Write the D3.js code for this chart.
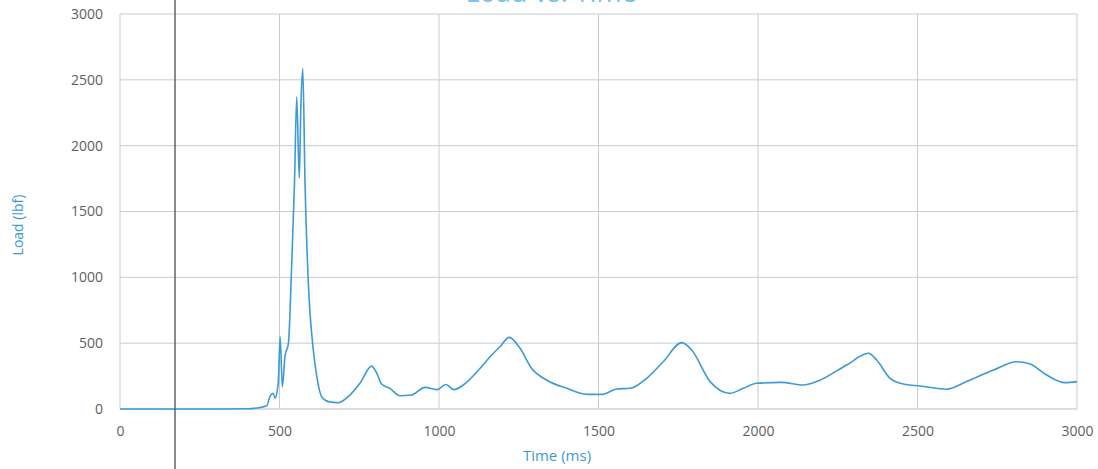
<!DOCTYPE html>
<html>
<head>
<meta charset="utf-8">
<script src="https://cdn.jsdelivr.net/npm/d3@7"></script>
<style>
  html, body { margin: 0; padding: 0; background: #ffffff; }
  svg { display: block; }
</style>
</head>
<body>
<svg id="chart" width="1098" height="469"></svg>
<script>
// Impact load trace, sampled times (ms) and load (lbf)
const timeMs = [0, 100, 200, 300, 400, 440, 460, 470, 480, 486, 496, 502, 509, 517, 528, 538, 547, 554, 562, 567, 573, 580, 590, 606, 617, 632, 653, 684, 721, 752, 789, 805, 820, 846, 878, 914, 956, 994, 1021, 1047, 1076, 1129, 1160, 1191, 1220, 1254, 1290, 1337, 1400, 1463, 1510, 1557, 1599, 1651, 1703, 1761, 1792, 1850, 1912, 1954, 1996, 2074, 2142, 2184, 2278, 2346, 2372, 2414, 2456, 2508, 2591, 2654, 2738, 2811, 2853, 2905, 2962, 3000];
const loadLbf = [0, 0, 0, 0, 2, 12, 25, 94, 120, 83, 197, 549, 169, 397, 501, 1080, 1715, 2370, 1753, 2295, 2586, 1715, 979, 448, 245, 94, 56, 48, 106, 195, 326, 271, 190, 157, 101, 106, 164, 147, 186, 147, 182, 309, 397, 473, 544, 461, 309, 220, 157, 111, 111, 152, 157, 233, 359, 504, 448, 208, 119, 157, 195, 202, 182, 208, 334, 423, 372, 233, 190, 175, 150, 208, 296, 359, 342, 258, 200, 208];

const xTicks = [0, 500, 1000, 1500, 2000, 2500, 3000];
const yTicks = [0, 500, 1000, 1500, 2000, 2500, 3000];

const chartTitle = "Load vs. Time";
const xTitle = "Time (ms)";
const yTitle = "Load (lbf)";

const svg = d3.select("#chart");
const plot = { left: 120, right: 1077, top: 14, bottom: 409 };

const x = d3.scaleLinear().domain([0, 3000]).range([plot.left, plot.right]);
const y = d3.scaleLinear().domain([0, 3000]).range([plot.bottom, plot.top]);

const gridColor = "#c5cdd5";
const tickColor = "#5f5f5f";
const blue = "#3c9ad8";

// Gridlines
svg.append("g")
  .selectAll("line")
  .data(yTicks)
  .join("line")
  .attr("x1", plot.left).attr("x2", plot.right)
  .attr("y1", d => y(d)).attr("y2", d => y(d))
  .attr("stroke", d => d === 0 ? "#b5bcc4" : gridColor)
  .attr("stroke-width", 1);

svg.append("g")
  .selectAll("line")
  .data(xTicks)
  .join("line")
  .attr("x1", d => x(d)).attr("x2", d => x(d))
  .attr("y1", plot.top).attr("y2", plot.bottom)
  .attr("stroke", gridColor)
  .attr("stroke-width", 1);

// Axes (labels only, lines drawn by grid)
const xAxis = d3.axisBottom(x).tickValues(xTicks).tickSize(0).tickPadding(17).tickFormat(d3.format("d"));
const gx = svg.append("g").attr("transform", `translate(0,${plot.bottom})`).call(xAxis);
gx.select(".domain").remove();
gx.selectAll("text").attr("fill", tickColor).style("font-family", "'Open Sans', sans-serif").style("font-size", "14px");

const yAxis = d3.axisLeft(y).tickValues(yTicks).tickSize(0).tickPadding(17).tickFormat(d3.format("d"));
const gy = svg.append("g").attr("transform", `translate(${plot.left},0)`).call(yAxis);
gy.select(".domain").remove();
gy.selectAll("text").attr("fill", tickColor).style("font-family", "'Open Sans', sans-serif").style("font-size", "14px");

// Load trace
const line = d3.line()
  .x((d, i) => x(timeMs[i]))
  .y(d => y(d))
  .curve(d3.curveMonotoneX);

svg.append("path")
  .datum(loadLbf)
  .attr("d", line)
  .attr("fill", "none")
  .attr("stroke", blue)
  .attr("stroke-width", 1.6)
  .attr("stroke-linejoin", "round");

// Marker line across the page
svg.append("line")
  .attr("x1", 175).attr("x2", 175)
  .attr("y1", 0).attr("y2", 469)
  .attr("stroke", "#555a60")
  .attr("stroke-width", 1.4);

// Titles
svg.append("text")
  .attr("x", 551).attr("y", 2)
  .attr("text-anchor", "middle")
  .attr("fill", "#7cc3ee")
  .style("font-family", "'Open Sans', sans-serif")
  .style("font-size", "27px")
  .text(chartTitle);

svg.append("text")
  .attr("x", 557).attr("y", 461)
  .attr("text-anchor", "middle")
  .attr("fill", blue)
  .style("font-family", "'Open Sans', sans-serif")
  .style("font-size", "15px")
  .text(xTitle);

svg.append("text")
  .attr("transform", "translate(23,225) rotate(-90)")
  .attr("text-anchor", "middle")
  .attr("fill", blue)
  .style("font-family", "'Open Sans', sans-serif")
  .style("font-size", "14px")
  .text(yTitle);
</script>
</body>
</html>
